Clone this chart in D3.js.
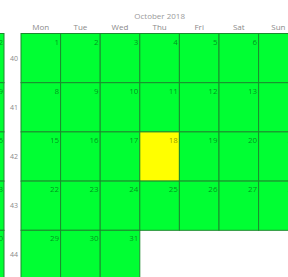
<!DOCTYPE html>
<html><head><meta charset="utf-8">
<script src="https://cdn.jsdelivr.net/npm/d3@7"></script>
<style>html,body{margin:0;padding:0;background:#fff;overflow:hidden}svg{display:block}</style>
</head><body>
<svg id="c" width="288" height="277"></svg>
<script>
const monthTitle = "October 2018";
const weekdays = ["Mon","Tue","Wed","Thu","Fri","Sat","Sun"];
const weeks = [40, 41, 42, 43, 44];
const days = [1,2,3,4,5,6,7,8,9,10,11,12,13,14,15,16,17,18,19,20,21,22,23,24,25,26,27,28,29,30,31];
const values = [0,0,0,0,0,0,0,0,0,0,0,0,0,0,0,0,0,1,0,0,0,0,0,0,0,0,0,0,0,0,0];
const prevSundays = [2, 9, 16, 23, 30];

const svg = d3.select("#c");
const font = "'Segoe UI','Open Sans',sans-serif";
const lineColor = "#1c8a2e";
const x = d3.scaleBand().domain(weekdays).range([21, 21 + 7*39.6]).padding(0);
const y = d3.scaleBand().domain(weeks).range([33.5, 33.5 + 5*49.2]).padding(0);
const color = d3.scaleOrdinal().domain([0,1]).range(["#00ff33","#ffff00"]);

// previous month (September) strip, clipped at left edge
const xPrev = d3.scaleBand().domain(weekdays).range([4 - 7*39.6, 4]);
const gp = svg.append("g");
gp.selectAll("rect").data(prevSundays).join("rect")
  .attr("x", xPrev("Sun")).attr("y", (d,i) => y(weeks[i]))
  .attr("width", xPrev.bandwidth()).attr("height", y.bandwidth())
  .attr("fill", "#00ff33").attr("stroke", lineColor).attr("stroke-width", 1);
gp.selectAll("text").data(prevSundays).join("text")
  .attr("x", 3).attr("y", (d,i) => y(weeks[i]) + 11)
  .attr("text-anchor","end").attr("font-family", font).attr("font-size", 8)
  .attr("fill","rgba(0,0,0,0.45)").text(d => d);

// October 2018 starts on Monday
const first = new Date(2018, 9, 1);
const firstDow = (first.getDay() + 6) % 7;
const cells = days.map((d,i) => {
  const k = firstDow + d - 1;
  return {day: d, v: values[i], col: weekdays[k % 7], row: weeks[Math.floor(k/7)]};
});

const g = svg.append("g");
g.selectAll("rect").data(cells).join("rect")
  .attr("x", d => x(d.col)).attr("y", d => y(d.row))
  .attr("width", x.bandwidth()).attr("height", y.bandwidth())
  .attr("fill", d => color(d.v))
  .attr("stroke", lineColor).attr("stroke-width", 1);
g.selectAll("text").data(cells).join("text")
  .attr("x", d => x(d.col) + x.bandwidth() - 1.5)
  .attr("y", d => y(d.row) + 11)
  .attr("text-anchor","end").attr("font-family", font).attr("font-size", 8)
  .attr("fill","rgba(0,0,0,0.45)").text(d => d.day);

// weekday header
svg.append("g").selectAll("text").data(weekdays).join("text")
  .attr("x", d => x(d) + x.bandwidth()/2).attr("y", 30)
  .attr("text-anchor","middle").attr("font-family", font).attr("font-size", 8)
  .attr("fill","#8a8a8a").text(d => d);

// week numbers
svg.append("g").selectAll("text").data(weeks).join("text")
  .attr("x", 14).attr("y", d => y(d) + y.bandwidth()/2 + 2.5)
  .attr("text-anchor","middle").attr("font-family", font).attr("font-size", 7)
  .attr("fill","#8a8a8a").text(d => d);

// month title
svg.append("text")
  .attr("x", (x.range()[0] + x.range()[1]) / 2).attr("y", 19)
  .attr("text-anchor","middle").attr("font-family", font).attr("font-size", 8)
  .attr("fill","#9a9a9a").text(monthTitle);
</script>
</body></html>
